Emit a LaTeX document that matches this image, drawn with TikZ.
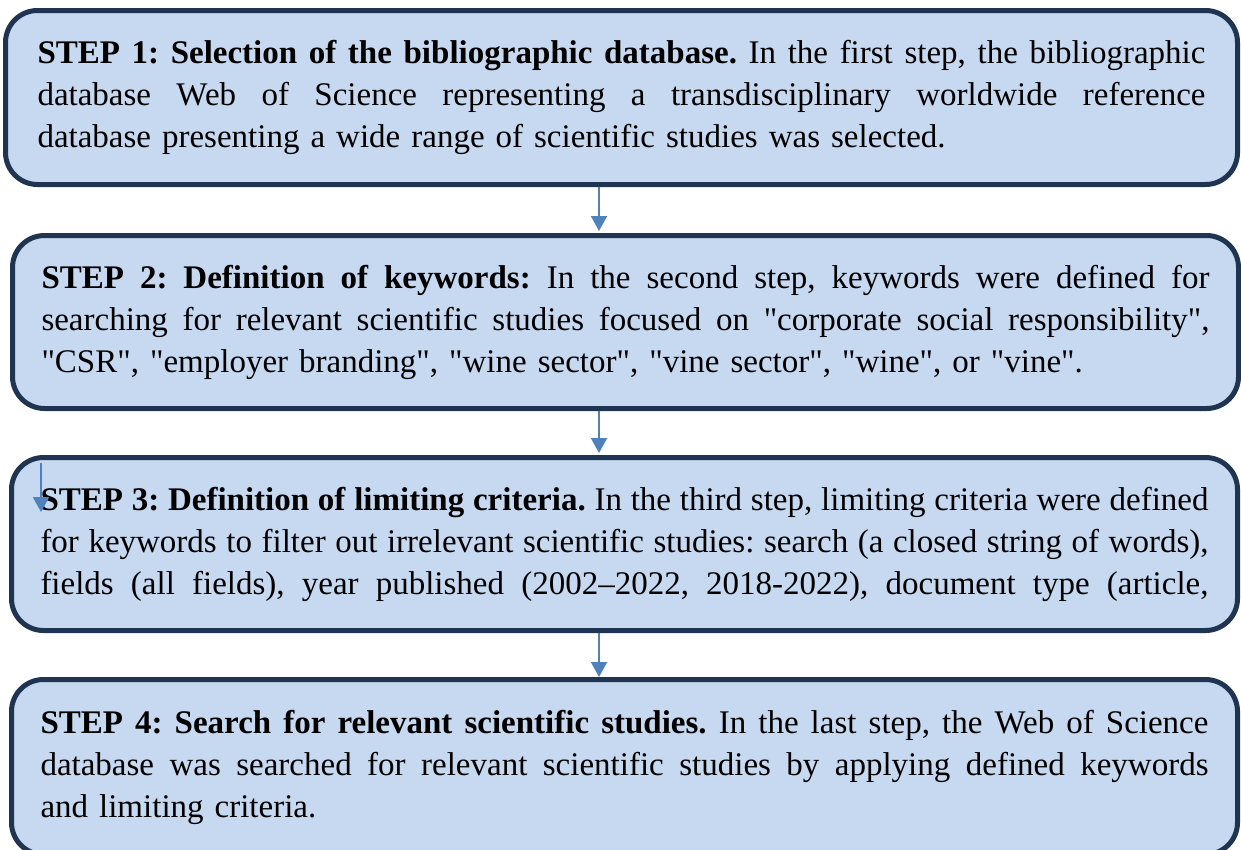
\documentclass[tikz,border=0pt]{standalone}
\usepackage{fontspec}
\setmainfont{Liberation Serif}[Ligatures=TeXOff]
\usetikzlibrary{arrows.meta, positioning}

\definecolor{boxfill}{RGB}{198,217,241}
\definecolor{boxline}{RGB}{31,52,80}
\definecolor{flowblue}{RGB}{79,129,189}

% one justified line of a step text
\newcommand{\jline}[1]{{\spaceskip=0pt\xspaceskip=0pt\makebox[1168pt][s]{#1}}}

\begin{document}
\frenchspacing
\begin{tikzpicture}[
    x=1pt, y=-1pt,
    stepbox/.style={draw=boxline, fill=boxfill, line width=5pt, rounded corners=32pt,
      inner sep=0pt, text width=1168pt, align=left,
      font=\fontsize{33}{42}\selectfont},
    flow/.style={draw=flowblue, line width=2pt, -{Triangle[width=16pt,length=15pt]}}
  ]
  \useasboundingbox (0,0) rectangle (1241,849);

  \node[stepbox, minimum width=1232pt, minimum height=174pt] (step1) at (621.5,97.5) {%
    \jline{\textbf{STEP 1: Selection of the bibliographic database.} In the first step, the bibliographic}\\
    \jline{database Web of Science representing a transdisciplinary worldwide reference}\\
    database presenting a wide range of scientific studies was selected.};
  \node[stepbox, minimum width=1226pt, minimum height=173pt] (step2) at (625.5,322) {%
    \jline{\textbf{STEP 2: Definition of keywords:} In the second step, keywords were defined for}\\
    \jline{searching for relevant scientific studies focused on "corporate social responsibility",}\\
    "CSR", "employer branding", "wine sector", "vine sector", "wine", or "vine".};
  \node[stepbox, minimum width=1226pt, minimum height=173pt] (step3) at (624.5,544) {%
    \jline{\textbf{STEP 3: Definition of limiting criteria.} In the third step, limiting criteria were defined}\\
    \jline{for keywords to filter out irrelevant scientific studies: search (a closed string of words),}\\
    \jline{fields (all fields), year published (2002–2022, 2018-2022), document type (article,}};
  \node[stepbox, minimum width=1226pt, minimum height=175pt] (step4) at (624.5,767) {%
    \jline{\textbf{STEP 4: Search for relevant scientific studies.} In the last step, the Web of Science}\\
    \jline{database was searched for relevant scientific studies by applying defined keywords}\\
    and limiting criteria.};

  \coordinate (axis) at (599,0);
  \draw[flow, shorten >=2pt] (step1.south -| axis) -- (step2.north -| axis);
  \draw[flow, shorten >=2pt] (step2.south -| axis) -- (step3.north -| axis);
  \draw[flow] (step3.south -| axis) -- (step4.north -| axis);

  % stray arrow inside step 3
  \coordinate (mark top) at (41,463);
  \coordinate (mark end) at (41,512);
  \draw[flow] (mark top) -- (mark end);
\end{tikzpicture}
\end{document}
